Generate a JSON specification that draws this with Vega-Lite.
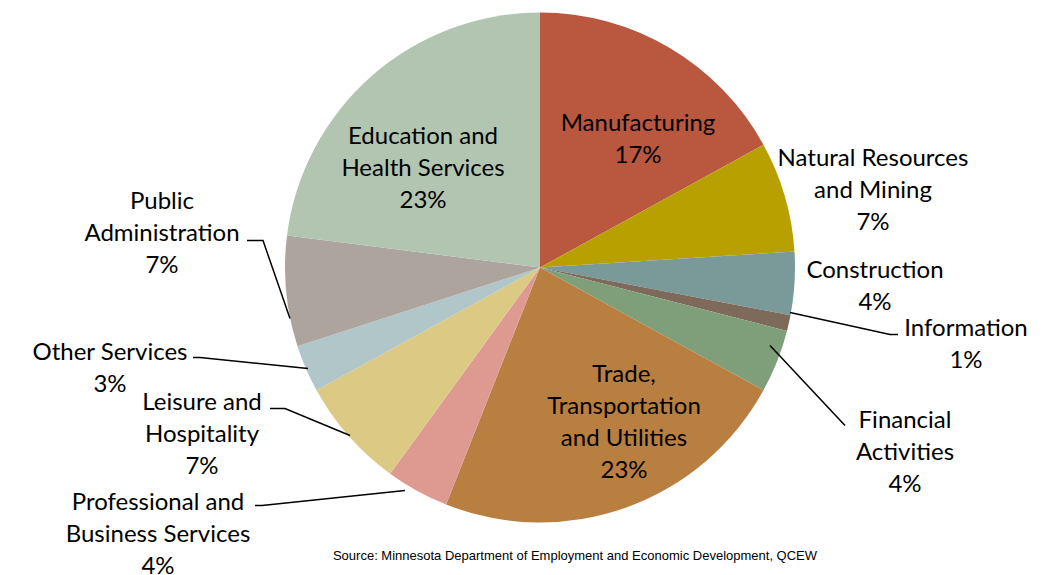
{
  "$schema": "https://vega.github.io/schema/vega-lite/v6.json",
  "width": 1018,
  "height": 535,
  "autosize": "none",
  "padding": {"left": 31, "top": 0, "right": 0, "bottom": 40},
  "datasets": {
    "slices": [
      {"i": 1, "sector": "Manufacturing", "pct": 17},
      {"i": 2, "sector": "Natural Resources and Mining", "pct": 7},
      {"i": 3, "sector": "Construction", "pct": 4},
      {"i": 4, "sector": "Information", "pct": 1},
      {"i": 5, "sector": "Financial Activities", "pct": 4},
      {"i": 6, "sector": "Trade, Transportation and Utilities", "pct": 23},
      {"i": 7, "sector": "Professional and Business Services", "pct": 4},
      {"i": 8, "sector": "Leisure and Hospitality", "pct": 7},
      {"i": 9, "sector": "Other Services", "pct": 3},
      {"i": 10, "sector": "Public Administration", "pct": 7},
      {"i": 11, "sector": "Education and Health Services", "pct": 23}
    ],
    "labels": [
      {"label": "Manufacturing\n17%", "lx": 98, "ly": 144},
      {"label": "Natural Resources\nand Mining\n7%", "lx": 333, "ly": 109},
      {"label": "Construction\n4%", "lx": 335, "ly": -3},
      {"label": "Information\n1%", "lx": 426, "ly": -61},
      {"label": "Financial\nActivities\n4%", "lx": 365, "ly": -153},
      {"label": "Trade,\nTransportation\nand Utilities\n23%", "lx": 84, "ly": -107},
      {"label": "Professional and\nBusiness Services\n4%", "lx": -382, "ly": -235},
      {"label": "Leisure and\nHospitality\n7%", "lx": -338, "ly": -135},
      {"label": "Other Services\n3%", "lx": -430, "ly": -85},
      {"label": "Public\nAdministration\n7%", "lx": -378, "ly": 66},
      {"label": "Education and\nHealth Services\n23%", "lx": -117, "ly": 131}
    ],
    "leaders": [
      {"g": "Information", "k": 1, "lx": 250, "ly": -45},
      {"g": "Information", "k": 2, "lx": 350, "ly": -67},
      {"g": "Information", "k": 3, "lx": 358, "ly": -67},
      {"g": "Financial", "k": 1, "lx": 230, "ly": -78},
      {"g": "Financial", "k": 2, "lx": 305, "ly": -158},
      {"g": "Professional", "k": 1, "lx": -135, "ly": -223},
      {"g": "Professional", "k": 2, "lx": -278, "ly": -238},
      {"g": "Professional", "k": 3, "lx": -285, "ly": -238},
      {"g": "Leisure", "k": 1, "lx": -190, "ly": -168},
      {"g": "Leisure", "k": 2, "lx": -255, "ly": -141},
      {"g": "Leisure", "k": 3, "lx": -270, "ly": -141},
      {"g": "Other", "k": 1, "lx": -232, "ly": -101},
      {"g": "Other", "k": 2, "lx": -340, "ly": -90},
      {"g": "Other", "k": 3, "lx": -347, "ly": -90},
      {"g": "Public", "k": 1, "lx": -250, "ly": -51},
      {"g": "Public", "k": 2, "lx": -277, "ly": 27},
      {"g": "Public", "k": 3, "lx": -293, "ly": 27}
    ],
    "source": [
      {"label": "Source: Minnesota Department of Employment and Economic Development, QCEW", "lx": 35, "ly": -288}
    ]
  },
  "layer": [
    {
      "data": {"name": "slices"},
      "mark": {"type": "arc", "outerRadius": 255},
      "encoding": {
        "theta": {"field": "pct", "type": "quantitative", "stack": true},
        "order": {"field": "i", "type": "quantitative"},
        "color": {"field": "sector", "type": "nominal", "legend": null,
          "scale": {"domain": ["Manufacturing", "Natural Resources and Mining", "Construction", "Information", "Financial Activities", "Trade, Transportation and Utilities", "Professional and Business Services", "Leisure and Hospitality", "Other Services", "Public Administration", "Education and Health Services"],
            "range": ["#B9573F", "#B8A000", "#7A9A9A", "#7D6A5A", "#7F9E7A", "#B97F40", "#DE9A90", "#DCC984", "#B0C6C8", "#ADA49E", "#B1C5B0"]}}
      }
    },
    {
      "data": {"name": "leaders"},
      "mark": {"type": "line", "color": "#000", "strokeWidth": 1.5, "clip": false},
      "encoding": {
        "x": {"field": "lx", "type": "quantitative", "scale": {"domain": [-509, 509]}, "axis": null},
        "y": {"field": "ly", "type": "quantitative", "scale": {"domain": [-267.5, 267.5]}, "axis": null},
        "detail": {"field": "g"},
        "order": {"field": "k"}
      }
    },
    {
      "data": {"name": "labels"},
      "mark": {"type": "text", "font": "Lato", "fontSize": 24, "lineBreak": "\n", "lineHeight": 32, "baseline": "middle", "align": "center", "clip": false},
      "encoding": {
        "x": {"field": "lx", "type": "quantitative", "scale": {"domain": [-509, 509]}, "axis": null},
        "y": {"field": "ly", "type": "quantitative", "scale": {"domain": [-267.5, 267.5]}, "axis": null},
        "text": {"field": "label"}
      }
    },
    {
      "data": {"name": "source"},
      "mark": {"type": "text", "font": "Liberation Sans", "fontSize": 13, "baseline": "middle", "align": "center", "clip": false},
      "encoding": {
        "x": {"field": "lx", "type": "quantitative", "scale": {"domain": [-509, 509]}, "axis": null},
        "y": {"field": "ly", "type": "quantitative", "scale": {"domain": [-267.5, 267.5]}, "axis": null},
        "text": {"field": "label"}
      }
    }
  ],
  "config": {"view": {"stroke": null}}
}
